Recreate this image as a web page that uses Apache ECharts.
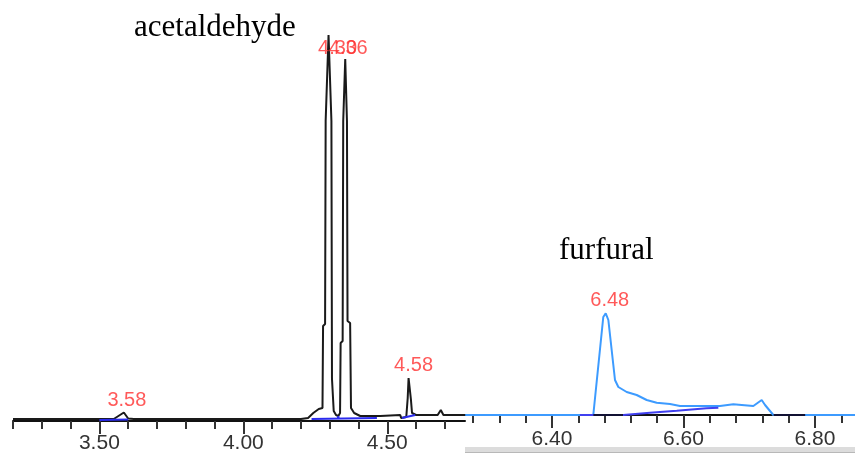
<!DOCTYPE html>
<html>
<head>
<meta charset="utf-8">
<script src="https://cdn.jsdelivr.net/npm/echarts@6/dist/echarts.min.js"></script>
<style>
html,body{margin:0;padding:0;background:#fff;}
#chart{width:855px;height:457px;}
</style>
</head>
<body>
<div id="chart"></div>
<script>
// ---- Data (retention time in min, detector signal in arbitrary units) ----
const leftTime   = [3.20, 3.50, 3.55, 3.585, 3.60, 3.62, 3.74, 4.00, 4.20, 4.225, 4.243, 4.262, 4.275, 4.277, 4.284, 4.286, 4.296, 4.306, 4.308, 4.312, 4.314, 4.322, 4.330, 4.336, 4.338, 4.345, 4.347, 4.354, 4.360, 4.362, 4.371, 4.374, 4.385, 4.406, 4.476, 4.478, 4.545, 4.548, 4.566, 4.571, 4.574, 4.578, 4.582, 4.586, 4.592, 4.60, 4.675, 4.686, 4.695, 4.77];
const leftSignal = [2, 2, 2, 8.5, 2.5, 2, 2, 2, 2, 3, 8, 12, 13, 95, 97, 300, 386, 300, 42, 40, 10, 6, 5, 8, 78, 80, 300, 362, 300, 100, 98, 13, 8, 5, 5, 6, 6, 3, 4, 23, 43, 42, 22, 8, 6, 6, 6, 11, 6, 6];

const leftBaseTime   = [3.50, 3.60, 3.9, 4.237, 4.464, 4.40, 4.330, 4.330, 4.45, 4.551, 4.597];
const leftBaseSignal = [1, 1.5, '-', 2, 3, '-', 1, 5, '-', 3, 6];

const rightTime   = [6.268, 6.4628, 6.478, 6.4817, 6.4857, 6.4958, 6.5009, 6.5136, 6.5288, 6.544, 6.5592, 6.5795, 6.5947, 6.6555, 6.6758, 6.6885, 6.7062, 6.7189, 6.724, 6.7366, 6.861];
const rightSignal = [0, 0, 98, 101.7, 95, 35, 28, 23, 20, 15, 12.3, 11, 9, 9, 10.7, 10, 9, 15, 10, 0, 0];

const rightBaseTime   = [6.4425, 6.5085, 6.549, 6.5897, 6.635, 6.653];
const rightBaseSignal = [0, 0, 2.3, 4.3, 6.7, 7.3];
const rightDarkTime   = [6.463, 6.508, 6.6, 6.737, 6.785];
const rightDarkSignal = [0, 0, '-', 0, 0];

const leftPeakTime   = [3.585, 4.296, 4.354, 4.574];
const leftPeakHeight = [8.5, 386, 362, 43];
const leftPeakLabel  = ['3.58', '4.30', '4.36', '4.58'];
const rightPeakTime   = [6.4817];
const rightPeakHeight = [101.7];
const rightPeakLabel  = ['6.48'];

const leftMinorTicks  = [3.2, 3.3, 3.4, 3.5, 3.6, 3.7, 3.8, 3.9, 4.0, 4.1, 4.2, 4.3, 4.4, 4.5, 4.6, 4.7];
const leftMajorTicks  = [3.5, 4.0, 4.5];
const rightMinorTicks = [6.28, 6.32, 6.36, 6.40, 6.44, 6.48, 6.52, 6.56, 6.60, 6.64, 6.68, 6.72, 6.76, 6.80, 6.84];
const rightMajorTicks = [6.40, 6.60, 6.80];

const compoundLeft  = 'acetaldehyde';
const compoundRight = 'furfural';

// ---- Styling / layout ----
const labelOffsets = { '3.58': [3, -12], '4.30': [9, 13.5], '4.36': [3, -10.5], '4.58': [5, -13], '6.48': [4, -12.8] };
const zip = (a, b) => a.map((t, i) => [t, b[i]]);
const tickFont = 'Liberation Sans, Arial, sans-serif';

function minorAxis(grid, min, max, ticks) {
  return {
    type: 'value', gridIndex: grid, min: min, max: max, position: 'bottom',
    axisLine: { show: true, lineStyle: { color: '#111', width: 2 } },
    axisTick: { show: true, customValues: ticks, length: 8, lineStyle: { color: '#333', width: 2 } },
    axisLabel: { show: false },
    splitLine: { show: false }
  };
}
function majorAxis(grid, min, max, ticks, margin) {
  return {
    type: 'value', gridIndex: grid, min: min, max: max, position: 'bottom',
    axisLine: { show: false },
    axisTick: { show: true, customValues: ticks, length: 13, lineStyle: { color: '#333', width: 2 } },
    axisLabel: { show: true, customValues: ticks, margin: margin, color: '#333',
      fontFamily: tickFont, fontSize: 21, formatter: v => v.toFixed(2) },
    splitLine: { show: false }
  };
}
function peakSeries(xi, yi, times, heights, labels) {
  return {
    type: 'scatter', xAxisIndex: xi, yAxisIndex: yi, symbolSize: 0, silent: true, z: 10,
    data: times.map((t, i) => ({
      value: [t, heights[i]],
      label: { show: true, position: 'inside', offset: labelOffsets[labels[i]], formatter: labels[i],
        color: '#ff3030', fontFamily: tickFont, fontSize: 20 }
    }))
  };
}

const chart = echarts.init(document.getElementById('chart'), null, { renderer: 'canvas' });
chart.setOption({
  animation: false,
  backgroundColor: '#ffffff',
  grid: [
    { left: 13, top: 21, width: 452, height: 400 },
    { left: 465, top: 15, width: 390, height: 400 }
  ],
  xAxis: [
    minorAxis(0, 3.2, 4.77, leftMinorTicks),
    majorAxis(0, 3.2, 4.77, leftMajorTicks, 12),
    minorAxis(1, 6.2677, 6.8608, rightMinorTicks),
    majorAxis(1, 6.2677, 6.8608, rightMajorTicks, 14)
  ],
  yAxis: [
    { type: 'value', gridIndex: 0, min: 0, max: 400, show: false },
    { type: 'value', gridIndex: 1, min: 0, max: 400, show: false }
  ],
  graphic: [
    { type: 'text', left: 134, top: 12, style: { text: compoundLeft, font: '31px "Liberation Serif", "Times New Roman", serif', fill: '#000' } },
    { type: 'text', left: 559, top: 235, style: { text: compoundRight, font: '31px "Liberation Serif", "Times New Roman", serif', fill: '#000' } },
    { type: 'rect', shape: { x: 465, y: 447, width: 390, height: 6 }, style: { fill: '#dcdcdc' } },
    { type: 'rect', shape: { x: 465, y: 452, width: 390, height: 1 }, style: { fill: '#b8b8b8' } }
  ],
  series: [
    { type: 'line', xAxisIndex: 0, yAxisIndex: 0, data: zip(leftTime, leftSignal), showSymbol: false,
      lineStyle: { color: '#1a1a1a', width: 2 }, z: 3 },
    { type: 'line', xAxisIndex: 0, yAxisIndex: 0, data: zip(leftBaseTime, leftBaseSignal), showSymbol: false,
      connectNulls: false, lineStyle: { color: '#2a2aee', width: 2 }, z: 4 },
    { type: 'line', xAxisIndex: 2, yAxisIndex: 1, data: zip(rightTime, rightSignal), showSymbol: false,
      lineStyle: { color: '#3d9bff', width: 2 }, z: 3 },
    { type: 'line', xAxisIndex: 2, yAxisIndex: 1, data: zip(rightBaseTime, rightBaseSignal), showSymbol: false,
      lineStyle: { color: '#4040f0', width: 2 }, z: 4 },
    { type: 'line', xAxisIndex: 2, yAxisIndex: 1, data: zip(rightDarkTime, rightDarkSignal), showSymbol: false,
      connectNulls: false, lineStyle: { color: '#111133', width: 2 }, z: 5 },
    peakSeries(0, 0, leftPeakTime, leftPeakHeight, leftPeakLabel),
    peakSeries(2, 1, rightPeakTime, rightPeakHeight, rightPeakLabel)
  ]
});
</script>
</body>
</html>
